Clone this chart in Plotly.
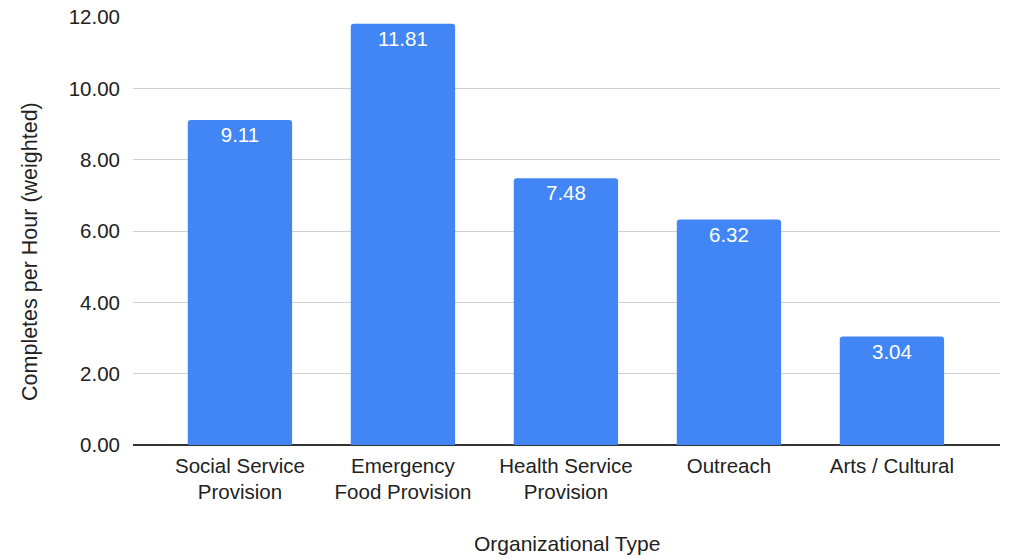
import plotly.graph_objects as go

categories = ["Social Service<br>Provision", "Emergency<br>Food Provision",
              "Health Service<br>Provision", "Outreach", "Arts / Cultural"]
values = [9.11, 11.81, 7.48, 6.32, 3.04]
y_ticks = [0, 2, 4, 6, 8, 10, 12]

font_family = "Liberation Sans, Arial, sans-serif"
ink = "#222222"

fig = go.Figure(
    go.Bar(
        x=list(range(len(categories))),
        y=values,
        width=0.64,
        marker=dict(color="#4285F4", line=dict(width=0)),
        text=[f"{v:.2f}" for v in values],
        textposition="inside",
        insidetextanchor="end",
        textfont=dict(color="white", size=20.5, family=font_family),
        textangle=0,
        cliponaxis=False,
    )
)

fig.update_layout(
    width=1010,
    height=559,
    margin=dict(l=133, r=10, t=17, b=114),
    plot_bgcolor="white",
    paper_bgcolor="white",
    showlegend=False,
    barcornerradius=3,
    uniformtext=dict(minsize=20, mode="show"),
    font=dict(family=font_family, size=20.5, color=ink),
    annotations=[
        dict(text="Organizational Type", xref="paper", yref="paper",
             x=0.5, y=-0.229, xanchor="center", yanchor="middle",
             showarrow=False, font=dict(size=21, color=ink)),
        dict(text="Completes per Hour (weighted)", xref="paper", yref="paper",
             x=-0.1188, y=0.451, xanchor="center", yanchor="middle",
             textangle=-90, showarrow=False, font=dict(size=21.5, color=ink)),
    ],
)

fig.update_xaxes(
    range=[-0.656, 4.663],
    automargin=False,
    tickmode="array",
    tickvals=list(range(len(categories))),
    ticktext=categories,
    showgrid=False,
    showline=False,
    ticks="",
    ticklabelstandoff=6,
    tickfont=dict(size=20.5, color=ink),
)

fig.update_yaxes(
    range=[0, 12],
    automargin=False,
    tickmode="array",
    tickvals=y_ticks,
    ticktext=[f"{t:.2f}" for t in y_ticks],
    showgrid=True,
    gridcolor="#d0d0d0",
    gridwidth=1,
    zeroline=True,
    zerolinecolor="#333333",
    zerolinewidth=2,
    ticks="",
    ticklabelstandoff=12,
    tickfont=dict(size=20.5, color=ink),
)

fig.write_html("out.html")
